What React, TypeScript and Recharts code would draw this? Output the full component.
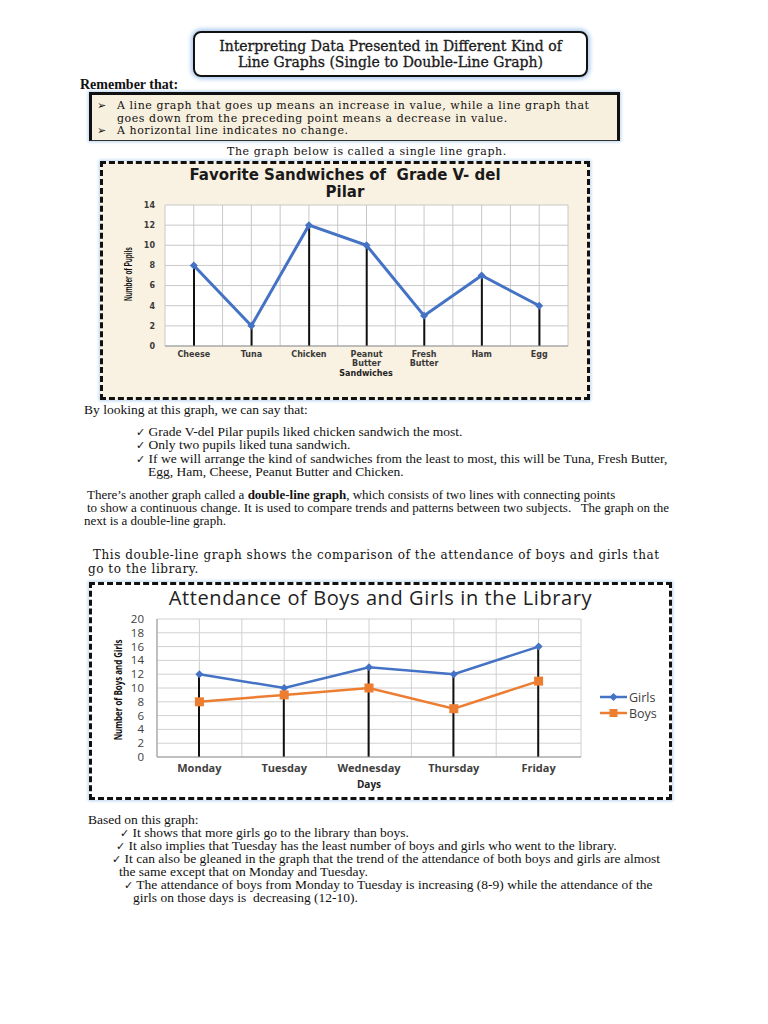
import React from 'react';
import { ComposedChart, Line, Bar, XAxis, YAxis, CartesianGrid, Legend } from 'recharts';

const sandwiches = ['Cheese', 'Tuna', 'Chicken', 'Peanut Butter', 'Fresh Butter', 'Ham', 'Egg'];
const pupils = [8, 2, 12, 10, 3, 7, 4];
const pupilTicks = [0, 2, 4, 6, 8, 10, 12, 14];

const days = ['Monday', 'Tuesday', 'Wednesday', 'Thursday', 'Friday'];
const girls = [12, 10, 13, 12, 16];
const boys = [8, 9, 10, 7, 11];
const attendanceTicks = [0, 2, 4, 6, 8, 10, 12, 14, 16, 18, 20];

const sandwichData = sandwiches.map((name, i) => ({ name, pupils: pupils[i] }));
const libraryData = days.map((day, i) => ({ day, Girls: girls[i], Boys: boys[i] }));

const BLUE = '#4472c4';
const ORANGE = '#ed7d31';
const SERIF = '"Liberation Serif", "Times New Roman", serif';
const BOOK = '"DejaVu Serif", serif';

// diamond / square markers like the Excel originals
const diamond = (color: string, r: number) => (props: any) => {
  const { cx, cy, index } = props;
  if (cx == null || cy == null) return <g key={index} />;
  return <path key={index} d={`M${cx},${cy - r}L${cx + r},${cy}L${cx},${cy + r}L${cx - r},${cy}Z`} fill={color} />;
};
const square = (color: string, s: number) => (props: any) => {
  const { cx, cy, index } = props;
  if (cx == null || cy == null) return <g key={index} />;
  return <rect key={index} x={cx - s / 2} y={cy - s / 2} width={s} height={s} fill={color} />;
};

// gridlines at category centres and at band edges
const halfBands = (n: number) => ({ offset }: any) =>
  Array.from({ length: 2 * n + 1 }, (_, i) => offset.left + (offset.width * i) / (2 * n));

const SandwichTick = (props: any) => {
  const { x, y, payload } = props;
  const words = String(payload.value).split(' ');
  return (
    <g>
      {words.map((w, i) => (
        <text key={i} x={x} y={y + 11 + i * 9} textAnchor="middle" fontSize={8} fontWeight={700}
          fontFamily="DejaVu Sans" fill="#3a3a3a">{w}</text>
      ))}
    </g>
  );
};

const LegendBox = () => (
  <div style={{ fontFamily: '"Open Sans"', fontSize: 12.5, color: '#404040' }}>
    {[{ name: 'Girls', color: BLUE, shape: 'd' }, { name: 'Boys', color: ORANGE, shape: 's' }].map((it) => (
      <div key={it.name} style={{ display: 'flex', alignItems: 'center', height: 16 }}>
        <svg width={27} height={12}>
          <line x1={0} y1={6} x2={27} y2={6} stroke={it.color} strokeWidth={2.5} />
          {it.shape === 'd'
            ? <path d="M13.5,2L17.5,6L13.5,10L9.5,6Z" fill={it.color} />
            : <rect x={9.5} y={2} width={8} height={8} fill={it.color} />}
        </svg>
        <span style={{ marginLeft: 2 }}>{it.name}</span>
      </div>
    ))}
  </div>
);

const T = ({ x, y, size = 13.5, children, style }: any) => (
  <div style={{ position: 'absolute', left: x, top: y, fontSize: size, lineHeight: 1, whiteSpace: 'pre', ...style }}>
    {children}
  </div>
);

const Check = ({ x, y, text }: { x: number; y: number; text: string }) => (
  <T x={x} y={y}>
    <span style={{ fontFamily: 'DejaVu Sans', fontSize: 11 }}>✓</span> {text}
  </T>
);

const book = { fontFamily: BOOK, letterSpacing: 0.55 };

export default function App() {
  return (
    <div style={{ position: 'relative', width: 768, height: 1024, margin: -8, background: '#fff', fontFamily: SERIF, color: '#111', overflow: 'hidden' }}>
      {/* heading box */}
      <div style={{ position: 'absolute', left: 193, top: 31, width: 395, height: 46, boxSizing: 'border-box', border: '2px solid #111', borderRadius: 8, boxShadow: '0 0 4px 2px #a9c8ee', fontFamily: BOOK, fontSize: 14, textAlign: 'center', lineHeight: '16px', paddingTop: 5, color: '#1a1a1a', WebkitTextStroke: '0.3px #1a1a1a' }}>
        Interpreting Data Presented in Different Kind of<br />Line Graphs (Single to Double-Line Graph)
      </div>

      <T x={80} y={78} size={14} style={{ fontWeight: 700 }}>Remember that:</T>
      <div style={{ position: 'absolute', left: 89, top: 92, width: 531, height: 49, boxSizing: 'border-box', border: '3px solid #111', borderBottom: '1px solid #333', background: '#f8f0de', boxShadow: '0 0 3px 1px #b8d4f0' }} />
      <T x={97} y={100} size={11} style={book}>{'➢'}</T>
      <T x={117} y={100} size={11} style={book}>A line graph that goes up means an increase in value, while a line graph that</T>
      <T x={117} y={113} size={11} style={book}>goes down from the preceding point means a decrease in value.</T>
      <T x={97} y={125} size={11} style={book}>{'➢'}</T>
      <T x={117} y={125} size={11} style={book}>A horizontal line indicates no change.</T>
      <T x={227} y={146} size={11} style={book}>The graph below is called a single line graph.</T>

      {/* single line graph */}
      <div style={{ position: 'absolute', left: 100, top: 161, width: 490, height: 239, boxSizing: 'border-box', border: '3px dashed #111', background: '#f9f1e1', boxShadow: '0 0 3px 1px #b8d4f0' }} />
      <div style={{ position: 'absolute', left: 100, top: 167, width: 490, textAlign: 'center', fontFamily: '"DejaVu Sans"', fontWeight: 700, fontSize: 15, lineHeight: '17px', color: '#1a1a1a' }}>
        Favorite Sandwiches of&nbsp; Grade V- del<br />Pilar
      </div>
      <div style={{ position: 'absolute', left: 100, top: 161 }}>
        <ComposedChart width={490} height={239} data={sandwichData} margin={{ top: 44, right: 22, left: 35, bottom: 0 }}>
          <CartesianGrid stroke="#c8c8c8" fill="#fff" verticalCoordinatesGenerator={halfBands(sandwiches.length)} />
          <XAxis dataKey="name" height={54} tickLine={false} tickSize={0} tickMargin={0} axisLine={{ stroke: '#999' }} tick={<SandwichTick />} interval={0} />
          <YAxis width={30} domain={[0, 14]} ticks={pupilTicks} interval={0} tickLine={false} tickSize={0} tickMargin={10} axisLine={false}
            tick={{ fontSize: 8, fontWeight: 700, fontFamily: 'DejaVu Sans', fill: '#3a3a3a' }} />
          <Bar dataKey="pupils" barSize={2} fill="#111" isAnimationActive={false} />
          <Line dataKey="pupils" type="linear" stroke={BLUE} strokeWidth={3} dot={diamond(BLUE, 4)} activeDot={false} isAnimationActive={false} />
        </ComposedChart>
      </div>
      <T x={100} y={370} size={8} style={{ width: 490, paddingLeft: 42, boxSizing: 'border-box', textAlign: 'center', fontFamily: 'DejaVu Sans', fontWeight: 700, color: '#222' }}>Sandwiches</T>
      <div style={{ position: 'absolute', left: 128, top: 274, transform: 'translate(-50%, -50%) rotate(-90deg) scaleX(0.62)', fontFamily: '"Liberation Sans"', fontWeight: 700, fontSize: 10.5, whiteSpace: 'nowrap', color: '#111' }}>Number of Pupils</div>

      <T x={84} y={403}>By looking at this graph, we can say that:</T>
      <Check x={136} y={425} text="Grade V-del Pilar pupils liked chicken sandwich the most." />
      <Check x={136} y={438} text="Only two pupils liked tuna sandwich." />
      <Check x={136} y={452} text="If we will arrange the kind of sandwiches from the least to most, this will be Tuna, Fresh Butter," />
      <T x={148} y={465}>Egg, Ham, Cheese, Peanut Butter and Chicken.</T>

      <T x={87} y={488} size={13}>There’s another graph called a <b>double-line graph</b>, which consists of two lines with connecting points</T>
      <T x={87} y={501} size={13}>to show a continuous change. It is used to compare trends and patterns between two subjects.&nbsp;&nbsp; The graph on the</T>
      <T x={84} y={514} size={13}>next is a double-line graph.</T>

      <T x={93} y={549} size={12} style={book}>This double-line graph shows the comparison of the attendance of boys and girls that</T>
      <T x={88} y={563} size={12} style={book}>go to the library.</T>

      {/* double line graph */}
      <div style={{ position: 'absolute', left: 89, top: 582, width: 583, height: 218, boxSizing: 'border-box', border: '3px dashed #111', background: '#fff', boxShadow: '0 0 3px 1px #b8d4f0' }} />
      <div style={{ position: 'absolute', left: 89, top: 588, width: 583, textAlign: 'center', fontFamily: '"Open Sans"', fontSize: 20, letterSpacing: 0.6, lineHeight: 1, color: '#222' }}>
        Attendance of Boys and Girls in the Library
      </div>
      <div style={{ position: 'absolute', left: 89, top: 582 }}>
        <ComposedChart width={583} height={218} data={libraryData} margin={{ top: 37, right: 91, left: 28, bottom: 0 }}>
          <CartesianGrid stroke="#d0d0d0" fill="#fff" verticalCoordinatesGenerator={halfBands(days.length)} />
          <XAxis dataKey="day" height={43} tickLine={false} tickSize={0} tickMargin={7} axisLine={{ stroke: '#999' }} interval={0}
            tick={{ fontSize: 11, fontWeight: 700, fontFamily: 'Open Sans', fill: '#404040' }} />
          <YAxis width={40} domain={[0, 20]} ticks={attendanceTicks} interval={0} tickLine={false} tickSize={0} tickMargin={13} axisLine={{ stroke: '#999' }}
            tick={{ fontSize: 11.5, fontFamily: 'Open Sans', fill: '#404040' }} />
          <Bar dataKey="Girls" barSize={2} fill="#111" isAnimationActive={false} legendType="none" />
          <Line dataKey="Girls" type="linear" stroke={BLUE} strokeWidth={2.5} dot={diamond(BLUE, 4)} activeDot={false} isAnimationActive={false} />
          <Line dataKey="Boys" type="linear" stroke={ORANGE} strokeWidth={2.5} dot={square(ORANGE, 9)} activeDot={false} isAnimationActive={false} />
          <Legend layout="vertical" align="center" verticalAlign="middle" content={<LegendBox />} wrapperStyle={{ left: 511, top: 107, width: 70 }} />
        </ComposedChart>
      </div>
      <T x={89} y={779} size={10} style={{ width: 583 - 91 + 68, textAlign: 'center', fontFamily: '"Open Sans"', fontWeight: 700, color: '#222' }}>Days</T>
      <div style={{ position: 'absolute', left: 117, top: 690, transform: 'translate(-50%, -50%) rotate(-90deg) scaleX(0.72)', fontFamily: '"Open Sans"', fontWeight: 700, fontSize: 11, whiteSpace: 'nowrap', color: '#111' }}>Number of Boys and Girls</div>

      <T x={88} y={813}>Based on this graph:</T>
      <Check x={120} y={826} text="It shows that more girls go to the library than boys." />
      <Check x={116} y={839} text="It also implies that Tuesday has the least number of boys and girls who went to the library." />
      <Check x={112} y={852} text="It can also be gleaned in the graph that the trend of the attendance of both boys and girls are almost" />
      <T x={119} y={865}>the same except that on Monday and Tuesday.</T>
      <Check x={124} y={878} text="The attendance of boys from Monday to Tuesday is increasing (8-9) while the attendance of the" />
      <T x={133} y={891}>girls on those days is&nbsp; decreasing (12-10).</T>
    </div>
  );
}
